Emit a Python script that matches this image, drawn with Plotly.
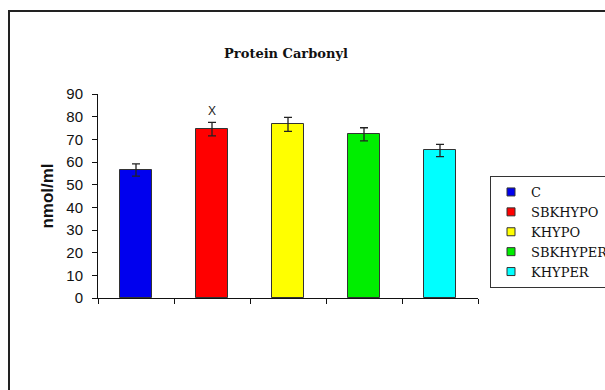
import plotly.graph_objects as go

groups = ["C", "SBKHYPO", "KHYPO", "SBKHYPER", "KHYPER"]
values = [56.5, 74.5, 76.6, 72.2, 65.1]
errors = [2.7, 3.0, 3.1, 2.9, 2.7]
colors = ["#0000ee", "#ff0000", "#ffff00", "#00ee00", "#00ffff"]
positions = [0.5, 1.5, 2.5, 3.5, 4.5]
yticks = [0, 10, 20, 30, 40, 50, 60, 70, 80, 90]
boundaries = [0, 1, 2, 3, 4, 5]

fig = go.Figure()
for g, v, e, c, p in zip(groups, values, errors, colors, positions):
    fig.add_trace(go.Bar(
        x=[p], y=[v], name=g, width=0.41, showlegend=False,
        marker=dict(color=c, line=dict(color="#333333", width=1)),
        error_y=dict(type="data", array=[e], visible=True, color="#222222",
                     thickness=1.3, width=4),
    ))
# legend entries (small square swatches)
for g, c in zip(groups, colors):
    fig.add_trace(go.Scatter(
        x=[None], y=[None], mode="markers", name=g,
        marker=dict(symbol="square", size=8, color=c,
                    line=dict(color="#333333", width=1)),
    ))

fig.add_annotation(x=positions[1], y=values[1] + errors[1], yshift=11,
                   text="X", showarrow=False,
                   font=dict(family="Arial", size=12, color="#222"))

fig.update_layout(
    width=605, height=390,
    margin=dict(l=98, r=127, t=94, b=92, autoexpand=False),
    paper_bgcolor="white", plot_bgcolor="white",
    showlegend=True, bargap=0,
    title=dict(text="<b>Protein Carbonyl</b>", x=286 / 605, xanchor="center",
               y=1 - 53 / 390, yanchor="middle",
               font=dict(family="DejaVu Serif", size=13, color="#111")),
    legend=dict(x=(490 - 98) / 380, y=(298 - 176) / 204,
                xanchor="left", yanchor="top",
                bordercolor="#333", borderwidth=1, bgcolor="white",
                font=dict(family="DejaVu Serif", size=13, color="#111"),
                tracegroupgap=0, itemwidth=30),
    xaxis=dict(range=[0, 5], tickvals=boundaries, ticktext=[""] * 6,
               ticks="outside", ticklen=5, tickcolor="#111", tickwidth=1,
               showline=True, linecolor="#111", linewidth=1,
               showgrid=False, zeroline=False, fixedrange=True),
    yaxis=dict(range=[0, 90], tickvals=yticks, ticks="outside", ticklen=5,
               ticklabelstandoff=6,
               tickcolor="#111", showline=True, linecolor="#111", linewidth=1,
               showgrid=False, zeroline=False,
               tickfont=dict(family="Arial", size=15, color="#111"),
               title=dict(text="<b>nmol/ml</b>", standoff=8,
                          font=dict(family="Arial", size=17, color="#111"))),
)

# outer frame (clipped at right/bottom in reference)
fig.add_shape(type="rect", xref="paper", yref="paper",
              x0=(9 - 98) / 380, x1=(700 - 98) / 380,
              y0=(298 - 450) / 204, y1=(298 - 11) / 204,
              line=dict(color="#222", width=2), layer="below")

fig.write_html("out.html")
